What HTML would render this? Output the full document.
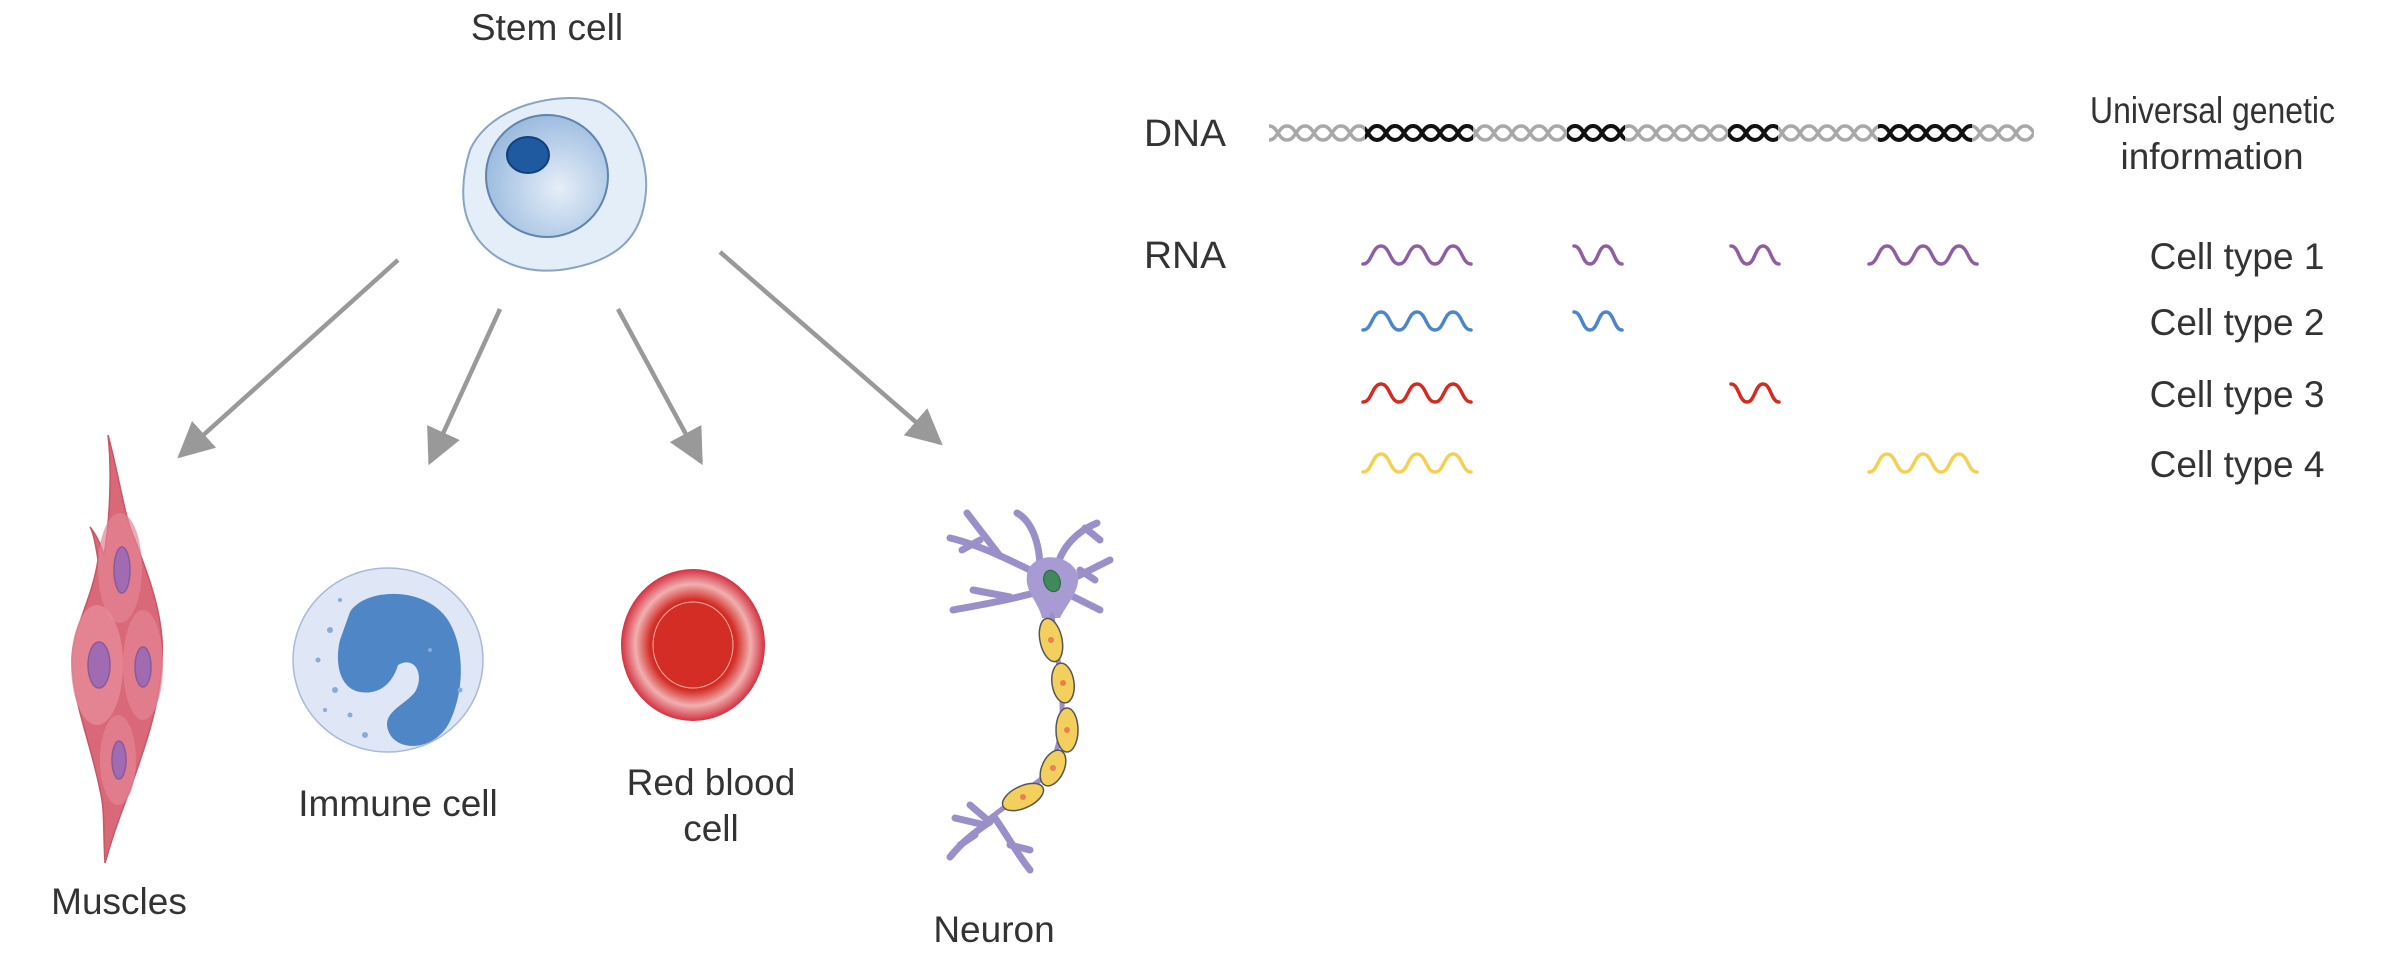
<!DOCTYPE html>
<html><head><meta charset="utf-8"><style>
html,body{margin:0;padding:0;background:#fff;}
svg{display:block;}
text{font-family:"Liberation Sans",Arial,sans-serif;fill:#333;}
</style></head><body>
<svg width="2398" height="966" viewBox="0 0 2398 966" xmlns="http://www.w3.org/2000/svg">
<defs>
<pattern id="dnaG" x="1269" y="119" width="36" height="28" patternUnits="userSpaceOnUse">
<path d="M0 7 C9 7 9 21 18 21 C27 21 27 7 36 7" fill="none" stroke="#a8a8a8" stroke-width="3.5"/>
<path d="M0 21 C9 21 9 7 18 7 C27 7 27 21 36 21" fill="none" stroke="#a8a8a8" stroke-width="3.5"/>
</pattern>
<pattern id="dnaB" x="1269" y="119" width="36" height="28" patternUnits="userSpaceOnUse">
<path d="M0 7 C9 7 9 21 18 21 C27 21 27 7 36 7" fill="none" stroke="#111" stroke-width="4"/>
<path d="M0 21 C9 21 9 7 18 7 C27 7 27 21 36 21" fill="none" stroke="#111" stroke-width="4"/>
</pattern>
<radialGradient id="stemIn" cx="0.6" cy="0.6" r="0.6"><stop offset="0" stop-color="#e6eef8"/><stop offset="1" stop-color="#9dbde0"/></radialGradient>
<radialGradient id="rbc" cx="0.5" cy="0.5" r="0.5"><stop offset="0.6" stop-color="#d42d26"/><stop offset="0.8" stop-color="#f0b0b0"/><stop offset="1" stop-color="#d43040"/></radialGradient>
<marker id="ah" viewBox="0 0 10 10" refX="9" refY="5" markerWidth="8" markerHeight="8" markerUnits="strokeWidth" orient="auto"><path d="M0 0 L10 5 L0 10 Z" fill="#999"/></marker>
</defs>

<!-- Stem cell -->
<text x="547" y="40" font-size="37" text-anchor="middle">Stem cell</text>
<path d="M470 150 C490 105 560 90 600 102 C640 125 650 170 645 200 C640 235 620 262 560 270 C510 275 480 250 470 225 C460 205 462 175 470 150 Z" fill="#e4eef9" stroke="#8aa4c0" stroke-width="2"/>
<circle cx="547" cy="176" r="61" fill="url(#stemIn)" stroke="#5f84ad" stroke-width="2"/>
<ellipse cx="528" cy="155" rx="21" ry="18" fill="#1f5aa0" stroke="#123f78" stroke-width="2"/>

<!-- Arrows -->
<g stroke="#999" stroke-width="4.5" fill="none" marker-end="url(#ah)">
<line x1="398" y1="260" x2="180" y2="456"/>
<line x1="500" y1="309" x2="430" y2="462"/>
<line x1="618" y1="309" x2="701" y2="462"/>
<line x1="720" y1="252" x2="940" y2="443"/>
</g>

<!-- Muscles -->
<path d="M108 435 C120 480 125 520 135 540 C150 580 165 620 162 660 C160 710 140 760 130 790 C118 820 110 845 105 863 C103 830 105 810 100 790 C90 740 72 700 72 660 C72 630 92 600 98 560 C95 540 92 530 90 527 C100 540 102 550 104 555 C110 520 112 470 108 435 Z" fill="#d96878" stroke="#c85666" stroke-width="1.5"/>
<ellipse cx="120" cy="568" rx="22" ry="55" fill="#e38494" opacity="0.7"/>
<ellipse cx="97" cy="665" rx="26" ry="60" fill="#e8909e" opacity="0.7"/>
<ellipse cx="143" cy="665" rx="20" ry="55" fill="#e38494" opacity="0.7"/>
<ellipse cx="118" cy="760" rx="18" ry="45" fill="#e38494" opacity="0.7"/>
<g fill="#a06bb0" stroke="#8a5a9c" stroke-width="1.5">
<ellipse cx="122" cy="570" rx="8" ry="23"/>
<ellipse cx="99" cy="665" rx="11" ry="23"/>
<ellipse cx="143" cy="667" rx="8" ry="20"/>
<ellipse cx="119" cy="760" rx="7" ry="19"/>
</g>
<text x="119" y="914" font-size="37" text-anchor="middle">Muscles</text>

<!-- Immune cell -->
<ellipse cx="388" cy="660" rx="95" ry="92" fill="#dfe6f5" stroke="#a9b9d8" stroke-width="1.5"/>
<path d="M350 612 C365 588 425 585 448 620 C468 652 462 700 448 725 C432 752 395 752 388 730 C382 712 405 705 415 692 C425 675 415 655 398 665 C392 685 378 695 360 692 C338 688 335 660 340 640 Z" fill="#4f86c6"/>
<g fill="#8aaad8"><circle cx="330" cy="630" r="3"/><circle cx="318" cy="660" r="2.5"/><circle cx="335" cy="690" r="3"/><circle cx="350" cy="715" r="2.5"/><circle cx="365" cy="735" r="3"/><circle cx="460" cy="690" r="2.5"/><circle cx="430" cy="650" r="2"/><circle cx="340" cy="600" r="2"/><circle cx="325" cy="710" r="2"/></g>
<text x="398" y="816" font-size="37" text-anchor="middle">Immune cell</text>

<!-- RBC -->
<ellipse cx="693" cy="645" rx="72" ry="76" fill="url(#rbc)"/>
<ellipse cx="693" cy="645" rx="40" ry="43" fill="none" stroke="#f0b0a8" stroke-width="1"/>
<text x="711" y="795" font-size="37" text-anchor="middle">Red blood</text>
<text x="711" y="841" font-size="37" text-anchor="middle">cell</text>

<!-- Neuron -->
<g stroke-linejoin="round" stroke-linecap="round">
<g fill="none" stroke="#9b8fc9" stroke-width="7">
<path d="M1050 580 C1010 560 980 545 950 538"/>
<path d="M1000 556 L967 513"/>
<path d="M1040 570 C1040 540 1030 520 1017 513"/>
<path d="M1055 575 C1060 545 1080 530 1097 523"/>
<path d="M1060 585 L1110 560"/>
<path d="M1060 590 L1100 610"/>
<path d="M1045 590 C1010 600 980 605 953 610"/>
<path d="M1010 597 L973 590"/>
<path d="M980 540 L962 550"/><path d="M1085 528 L1100 540"/><path d="M1080 570 L1095 580"/>
<path d="M990 822 C970 835 960 845 950 857"/>
<path d="M995 818 C1010 840 1020 858 1030 870"/>
<path d="M985 825 L955 818"/><path d="M975 835 L960 845"/><path d="M1010 845 L1030 850"/><path d="M990 822 L970 805"/>
</g>
<path d="M1028 570 C1038 550 1072 555 1078 575 C1080 592 1066 605 1060 618 L1042 618 C1038 600 1022 590 1028 570 Z" fill="#a89bd4"/>
<ellipse cx="1052" cy="581" rx="8" ry="11" fill="#3e8a5a" stroke="#2a6040" stroke-width="1" transform="rotate(-20 1052 581)"/>
<path d="M1052 615 C1060 680 1075 740 1040 780 L985 822" fill="none" stroke="#9b8fc9" stroke-width="5"/>
<g fill="#f3cf5e" stroke="#555" stroke-width="1.5">
<ellipse cx="1051" cy="640" rx="11" ry="22" transform="rotate(-12 1051 640)"/>
<ellipse cx="1063" cy="683" rx="11" ry="20" transform="rotate(-8 1063 683)"/>
<ellipse cx="1067" cy="730" rx="11" ry="22"/>
<ellipse cx="1053" cy="768" rx="11" ry="19" transform="rotate(25 1053 768)"/>
<ellipse cx="1023" cy="797" rx="11" ry="22" transform="rotate(65 1023 797)"/>
</g>
<g fill="#e98050"><circle cx="1051" cy="640" r="3"/><circle cx="1063" cy="683" r="3"/><circle cx="1067" cy="730" r="3"/><circle cx="1053" cy="768" r="3"/><circle cx="1023" cy="797" r="3"/></g>
</g>
<text x="994" y="942" font-size="37" text-anchor="middle">Neuron</text>

<!-- DNA -->
<text x="1144" y="146" font-size="38" textLength="82" lengthAdjust="spacingAndGlyphs">DNA</text>
<rect x="1269" y="119" width="765" height="28" fill="url(#dnaG)"/>
<rect x="1365" y="117" width="108" height="32" fill="#fff"/><rect x="1365" y="119" width="108" height="28" fill="url(#dnaB)"/>
<rect x="1567" y="117" width="58" height="32" fill="#fff"/><rect x="1567" y="119" width="58" height="28" fill="url(#dnaB)"/>
<rect x="1728" y="117" width="50" height="32" fill="#fff"/><rect x="1728" y="119" width="50" height="28" fill="url(#dnaB)"/>
<rect x="1878" y="117" width="94" height="32" fill="#fff"/><rect x="1878" y="119" width="94" height="28" fill="url(#dnaB)"/>
<text x="2090" y="123" font-size="37" textLength="245" lengthAdjust="spacingAndGlyphs">Universal genetic</text>
<text x="2212" y="169" font-size="37" text-anchor="middle">information</text>

<!-- RNA -->
<text x="1144" y="268" font-size="38" textLength="82" lengthAdjust="spacingAndGlyphs">RNA</text>
<g fill="none" stroke-width="3.5" stroke-linecap="round">
<g stroke="#8e5ea2">
<path d="M1363 264 c9 0 9 -18 18 -18 s9 18 18 18 s9 -18 18 -18 s9 18 18 18 s9 -18 18 -18 s9 18 18 18"/>
<path d="M1574 246 c8 0 8 18 16 18 s8 -18 16 -18 s8 18 16 18"/>
<path d="M1731 246 c8 0 8 18 16 18 s8 -18 16 -18 s8 18 16 18"/>
<path d="M1869 264 c9 0 9 -18 18 -18 s9 18 18 18 s9 -18 18 -18 s9 18 18 18 s9 -18 18 -18 s9 18 18 18"/>
</g>
<g stroke="#4a86c8">
<path d="M1363 330 c9 0 9 -18 18 -18 s9 18 18 18 s9 -18 18 -18 s9 18 18 18 s9 -18 18 -18 s9 18 18 18"/>
<path d="M1574 312 c8 0 8 18 16 18 s8 -18 16 -18 s8 18 16 18"/>
</g>
<g stroke="#d42a20">
<path d="M1363 402 c9 0 9 -18 18 -18 s9 18 18 18 s9 -18 18 -18 s9 18 18 18 s9 -18 18 -18 s9 18 18 18"/>
<path d="M1731 384 c8 0 8 18 16 18 s8 -18 16 -18 s8 18 16 18"/>
</g>
<g stroke="#f5d050">
<path d="M1363 472 c9 0 9 -18 18 -18 s9 18 18 18 s9 -18 18 -18 s9 18 18 18 s9 -18 18 -18 s9 18 18 18"/>
<path d="M1869 472 c9 0 9 -18 18 -18 s9 18 18 18 s9 -18 18 -18 s9 18 18 18 s9 -18 18 -18 s9 18 18 18"/>
</g>
</g>
<g font-size="37" text-anchor="middle">
<text x="2237" y="269">Cell type 1</text>
<text x="2237" y="335">Cell type 2</text>
<text x="2237" y="407">Cell type 3</text>
<text x="2237" y="477">Cell type 4</text>
</g>
</svg>
</body></html>
